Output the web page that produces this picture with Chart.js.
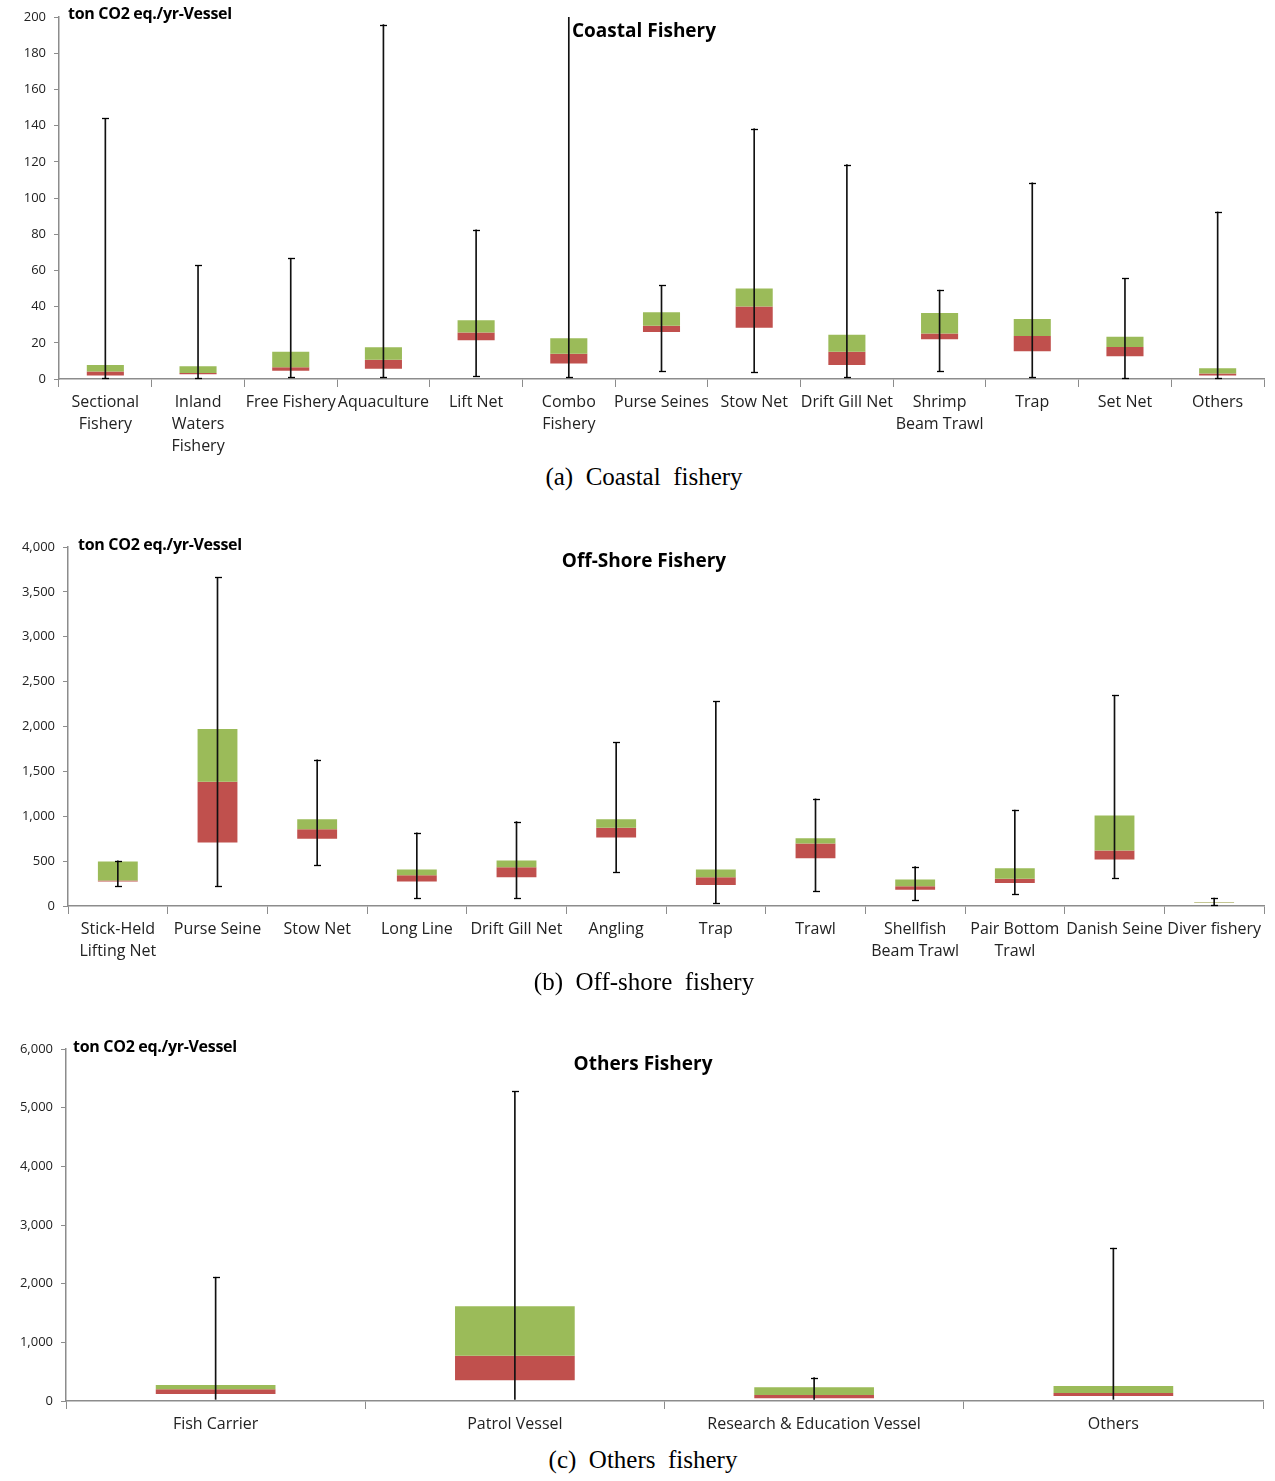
<!DOCTYPE html>
<html>
<head>
<meta charset="utf-8">
<script src="https://cdn.jsdelivr.net/npm/chart.js@4/dist/chart.umd.min.js"></script>
<style>
  html, body { margin: 0; padding: 0; background: #fff; }
  body { width: 1275px; height: 1481px; position: relative; overflow: hidden; }
  .panel { position: absolute; left: 0; width: 1275px; }
  .txt { position: absolute; white-space: pre; color: #000; }
  .title { font-family: "Open Sans", "Noto Sans", sans-serif; font-weight: bold; font-size: 19px; transform: translate(-50%, -50%); }
  .unit { font-family: "Open Sans", "Noto Sans", sans-serif; font-weight: bold; font-size: 16px; transform: translateY(-50%); letter-spacing: -0.3px; }
  .cap { font-family: "Liberation Serif", "DejaVu Serif", serif; font-size: 25px; transform: translate(-50%, -50%); }
</style>
</head>
<body>
<div class="panel" style="top:0;height:460px"><canvas id="c1" width="1275" height="460"></canvas></div>
<div class="panel" style="top:500px;height:470px"><canvas id="c2" width="1275" height="470"></canvas></div>
<div class="panel" style="top:1000px;height:440px"><canvas id="c3" width="1275" height="440"></canvas></div>

<div class="txt unit" style="left:68px;top:13px">ton CO2 eq./yr-Vessel</div>
<div class="txt title" style="left:644px;top:30px">Coastal Fishery</div>
<div class="txt cap" style="left:644px;top:477px">(a)  Coastal  fishery</div>

<div class="txt unit" style="left:78px;top:544px">ton CO2 eq./yr-Vessel</div>
<div class="txt title" style="left:644px;top:560px">Off-Shore Fishery</div>
<div class="txt cap" style="left:644px;top:982px">(b)  Off-shore  fishery</div>

<div class="txt unit" style="left:73px;top:1046px">ton CO2 eq./yr-Vessel</div>
<div class="txt title" style="left:643px;top:1063px">Others Fishery</div>
<div class="txt cap" style="left:643px;top:1460px">(c)  Others  fishery</div>

<script>
// ---------- Data ----------
// (a) Coastal fishery
const coastalLabels = [['Sectional','Fishery'], ['Inland','Waters','Fishery'], 'Free Fishery', 'Aquaculture', 'Lift Net',
  ['Combo','Fishery'], 'Purse Seines', 'Stow Net', 'Drift Gill Net', ['Shrimp','Beam Trawl'], 'Trap', 'Set Net', 'Others'];
const coastalMin    = [0.7, 0.7, 1.1, 1.1, 1.8, 1.1, 4.4, 3.7, 1.1, 4.4, 1.1, 0.4, 0.4];
const coastalQ1     = [2.0, 2.6, 4.6, 5.7, 21.4, 8.5, 25.9, 28.3, 7.8, 22.0, 15.3, 12.6, 2.0];
const coastalMedian = [4.1, 3.3, 6.5, 10.7, 25.7, 13.9, 29.4, 40.1, 15.1, 25.1, 23.8, 17.7, 3.0];
const coastalQ3     = [7.8, 7.0, 15.1, 17.5, 32.5, 22.5, 36.9, 50.0, 24.4, 36.4, 33.2, 23.3, 5.9];
const coastalMax    = [144, 62.8, 66.7, 195.8, 82.4, 210, 51.7, 138.3, 118.4, 49.1, 108.4, 55.6, 92.3];
const coastalTicks  = [0, 200, 20];

// (b) Off-shore fishery
const offshoreLabels = [['Stick-Held','Lifting Net'], 'Purse Seine', 'Stow Net', 'Long Line', 'Drift Gill Net', 'Angling',
  'Trap', 'Trawl', ['Shellfish','Beam Trawl'], ['Pair Bottom','Trawl'], 'Danish Seine', 'Diver fishery'];
const offshoreMin    = [227, 227, 454, 89, 89, 376, 37, 164, 63, 138, 313, 15];
const offshoreQ1     = [272, 707, 748, 272, 320, 763, 234, 532, 182, 257, 517, 33];
const offshoreMedian = [283, 1384, 856, 342, 432, 871, 320, 696, 220, 305, 618, 37];
const offshoreQ3     = [495, 1972, 967, 406, 506, 967, 406, 755, 294, 420, 1008, 41];
const offshoreMax    = [502, 3661, 1630, 815, 941, 1823, 2281, 1194, 439, 1068, 2348, 89];
const offshoreTicks  = [0, 4000, 500];

// (c) Others fishery
const othersLabels = ['Fish Carrier', 'Patrol Vessel', 'Research & Education Vessel', 'Others'];
const othersMin    = [28, 28, 28, 28];
const othersQ1     = [119, 353, 45, 85];
const othersMedian = [199, 773, 102, 136];
const othersQ3     = [273, 1615, 233, 256];
const othersMax    = [2110, 5278, 398, 2605];
const othersTicks  = [0, 6000, 1000];

// ---------- Styles ----------
const RED = '#C0504D', GREEN = '#9BBB59', AXIS = '#8c8c8c';
const tickFont = { family: '"Open Sans", "Noto Sans", sans-serif', size: 13 };
const catFont  = { family: '"Open Sans", "Noto Sans", sans-serif', size: 16, lineHeight: 1.375 };

const capPlugin = {
  id: 'whiskerCaps',
  afterDatasetsDraw(chart, args, opts) {
    const meta = chart.getDatasetMeta(0);
    const ds = chart.data.datasets[0].data;
    const y = chart.scales.y;
    const ctx = chart.ctx;
    ctx.save();
    ctx.strokeStyle = '#000';
    ctx.lineWidth = 1.3;
    meta.data.forEach((el, i) => {
      const [lo, hi] = ds[i];
      const x = Math.round(el.x) + 0.5;
      if (hi <= y.max) {
        const py = Math.round(y.getPixelForValue(hi)) + 0.5;
        ctx.beginPath(); ctx.moveTo(x - 3.5, py); ctx.lineTo(x + 3.5, py); ctx.stroke();
      }
      if (opts.bottom) {
        const py = Math.round(y.getPixelForValue(lo)) + 0.5;
        ctx.beginPath(); ctx.moveTo(x - 3.5, py); ctx.lineTo(x + 3.5, py); ctx.stroke();
      }
    });
    ctx.restore();
  }
};

function makeChart(id, labels, mn, q1, med, q3, mx, ticks, cfg) {
  const [ymin, ymax, step] = ticks;
  return new Chart(document.getElementById(id), {
    type: 'bar',
    data: {
      labels: labels,
      datasets: [
        { label: 'range', data: labels.map((_, i) => [mn[i], mx[i]]), backgroundColor: '#111',
          barThickness: 1, grouped: false, order: 0 },
        { label: 'Q3', data: labels.map((_, i) => [med[i], q3[i]]), backgroundColor: GREEN,
          barPercentage: cfg.bp, categoryPercentage: 1, grouped: false, order: 1 },
        { label: 'Q1', data: labels.map((_, i) => [q1[i], med[i]]), backgroundColor: RED,
          barPercentage: cfg.bp, categoryPercentage: 1, grouped: false, order: 2 }
      ]
    },
    options: {
      responsive: false,
      animation: false,
      layout: { padding: { top: cfg.top, right: cfg.right, left: 0, bottom: 0 } },
      plugins: { legend: { display: false }, tooltip: { enabled: false }, whiskerCaps: { bottom: cfg.bottomCaps } },
      scales: {
        x: {
          grid: { offset: true, drawOnChartArea: false, tickLength: 8, color: AXIS },
          border: { color: AXIS, width: 1.5 },
          ticks: { font: catFont, color: '#222', maxRotation: 0, autoSkip: false, padding: 4 },
          afterFit(s) { s.height = cfg.xh; }
        },
        y: {
          min: ymin, max: ymax,
          grid: { drawOnChartArea: false, tickLength: 5, color: AXIS },
          border: { color: AXIS, width: 1.5 },
          ticks: { stepSize: step, font: tickFont, color: '#222', padding: 8,
            callback: v => v.toLocaleString('en-US') },
          afterFit(s) { s.width = cfg.yw; }
        }
      }
    },
    plugins: [capPlugin]
  });
}

makeChart('c1', coastalLabels, coastalMin, coastalQ1, coastalMedian, coastalQ3, coastalMax, coastalTicks,
  { bp: 0.40, top: 17, right: 11, yw: 59, xh: 81, bottomCaps: true });
makeChart('c2', offshoreLabels, offshoreMin, offshoreQ1, offshoreMedian, offshoreQ3, offshoreMax, offshoreTicks,
  { bp: 0.40, top: 47, right: 11, yw: 68, xh: 64, bottomCaps: true });
makeChart('c3', othersLabels, othersMin, othersQ1, othersMedian, othersQ3, othersMax, othersTicks,
  { bp: 0.40, top: 49, right: 12, yw: 66, xh: 39, bottomCaps: false });
</script>
</body>
</html>
